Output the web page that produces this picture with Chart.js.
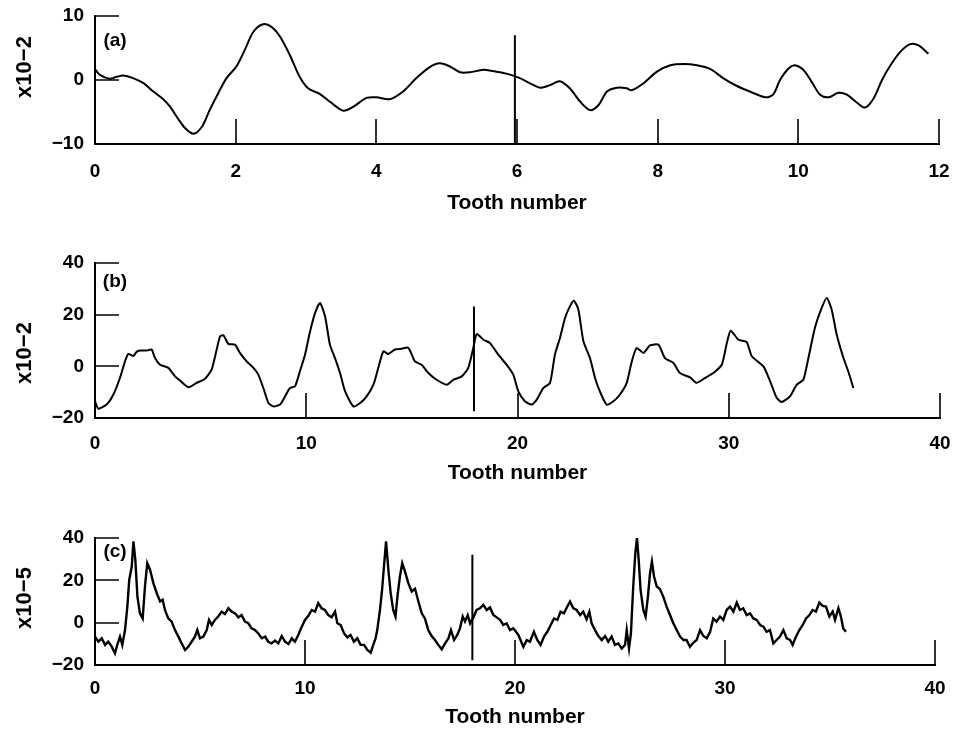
<!DOCTYPE html>
<html>
<head>
<meta charset="utf-8">
<script src="https://cdn.jsdelivr.net/npm/chart.js@4.4.0/dist/chart.umd.min.js"></script>
<style>
  body { margin: 0; background: #fff; width: 958px; height: 731px; overflow: hidden; position: relative; }
  canvas { position: absolute; left: 0; }
</style>
</head>
<body>
<canvas id="chartA" width="958" height="230" style="top:0px"></canvas>
<canvas id="chartB" width="958" height="260" style="top:230px"></canvas>
<canvas id="chartC" width="958" height="241" style="top:490px"></canvas>
<script>
// ---- data ----
const xTicksA = [0, 2, 4, 6, 8, 10, 12];
const yTicksA = [-10, 0, 10];
const xTicksBC = [0, 10, 20, 30, 40];
const yTicksBC = [-20, 0, 20, 40];

// (a) tooth number / value (x10^-2)
const toothA = [0, 0.07, 0.21, 0.31, 0.40, 0.54, 0.69, 0.83, 0.97, 1.07, 1.16, 1.28, 1.40, 1.52, 1.63, 1.75, 1.87, 2.01, 2.13, 2.25,
  2.39, 2.51, 2.63, 2.77, 2.91, 3.03, 3.20, 3.34, 3.53, 3.67, 3.86, 4.00, 4.19, 4.38, 4.57, 4.76, 4.90, 5.05, 5.19, 5.33,
  5.52, 5.66, 5.85, 6.04, 6.33, 6.47, 6.61, 6.75, 6.90, 7.04, 7.16, 7.28, 7.42, 7.56, 7.63, 7.80, 7.99, 8.18, 8.37, 8.56,
  8.75, 8.93, 9.12, 9.31, 9.53, 9.64, 9.74, 9.86, 9.95, 10.07, 10.19, 10.31, 10.43, 10.57, 10.69, 10.84, 10.95, 11.07, 11.19, 11.31,
  11.45, 11.59, 11.71, 11.85];
const valueA = [1.7, 0.8, 0.2, 0.5, 0.7, 0.3, -0.5, -1.8, -3.0, -4.2, -5.7, -7.5, -8.4, -7.3, -4.7, -2.1, 0.3, 2.1, 4.7, 7.5,
  8.7, 8.3, 6.8, 3.9, 0.5, -1.3, -2.2, -3.4, -4.8, -4.2, -2.8, -2.7, -3.0, -1.8, 0.3, 2.0, 2.6, 2.1, 1.2, 1.2,
  1.6, 1.4, 1.0, 0.3, -1.2, -0.8, -0.2, -1.3, -3.4, -4.7, -3.9, -1.8, -1.2, -1.3, -1.6, -0.5, 1.3, 2.3, 2.5, 2.3,
  1.7, 0.3, -0.9, -1.8, -2.7, -2.3, 0.0, 1.8, 2.3, 1.6, -0.3, -2.3, -2.7, -2.0, -2.3, -3.6, -4.3, -2.9, 0.0, 2.3,
  4.4, 5.6, 5.4, 4.1];
const markerA = [5.97, 7.0, -10];

// (b) tooth number / value (x10^-2)
const toothB = [0, 0.16, 0.55, 0.87, 1.18, 1.42, 1.58, 1.81, 1.97, 2.13, 2.45, 2.68, 2.84, 3.08, 3.47, 3.79, 4.02, 4.42, 4.81, 5.21,
  5.52, 5.76, 5.92, 6.08, 6.31, 6.63, 6.86, 7.18, 7.50, 7.73, 7.97, 8.21, 8.44, 8.76, 9.00, 9.23, 9.47, 9.70, 9.94, 10.18,
  10.42, 10.65, 10.89, 11.12, 11.36, 11.60, 11.84, 12.23, 12.55, 12.86, 13.18, 13.41, 13.65, 13.89, 14.20, 14.52, 14.83, 15.15, 15.46, 15.78,
  16.17, 16.65, 16.96, 17.36, 17.67, 17.91, 18.07, 18.39, 18.70, 19.09, 19.49, 19.80, 20.04, 20.35, 20.67, 20.91, 21.22, 21.54, 21.77, 22.01,
  22.25, 22.48, 22.67, 22.88, 23.12, 23.43, 23.67, 23.90, 24.22, 24.54, 24.85, 25.17, 25.41, 25.64, 25.96, 26.27, 26.67, 26.98, 27.38, 27.69,
  28.17, 28.48, 28.88, 29.27, 29.67, 29.91, 30.09, 30.46, 30.85, 31.09, 31.64, 31.96, 32.27, 32.51, 32.90, 33.22, 33.53, 33.77, 34.08, 34.40,
  34.64, 34.87, 35.11, 35.43, 35.66, 35.90];
const valueB = [-13.5, -16.4, -14.8, -10.9, -4.5, 1.9, 4.8, 4.0, 5.6, 6.1, 6.1, 6.5, 3.2, 0.6, -0.6, -3.9, -5.5, -8.1, -6.4, -4.8,
  -1.3, 6.5, 11.6, 12.0, 8.7, 8.4, 5.2, 1.9, -0.6, -3.2, -8.4, -14.2, -15.5, -14.8, -11.6, -8.4, -7.7, -1.9, 4.5, 13.5,
  20.7, 24.5, 19.4, 8.4, 3.2, -2.6, -9.7, -15.5, -14.2, -11.6, -7.1, -0.6, 5.8, 4.8, 6.5, 6.8, 7.2, 1.9, 0.6, -2.6,
  -5.2, -7.1, -5.2, -3.9, -0.6, 7.2, 12.5, 10.3, 9.0, 4.5, 0.6, -3.2, -9.7, -13.5, -14.8, -12.9, -8.4, -6.4, 4.5, 11.0,
  18.7, 23.2, 25.4, 22.0, 9.7, 3.2, -4.5, -9.7, -14.8, -13.5, -10.9, -6.4, 1.9, 7.1, 5.2, 8.1, 8.4, 3.2, 1.3, -2.6,
  -4.3, -6.4, -4.5, -2.6, 0.6, 9.0, 13.8, 10.3, 9.4, 3.9, 0.0, -5.8, -12.2, -13.8, -11.6, -7.1, -5.2, 3.2, 14.9, 22.6,
  26.5, 22.0, 12.3, 3.2, -2.0, -8.4];
const markerB = [17.94, 23.2, -17.4];

// (c) tooth number / value (x10^-5)
const toothC = [0, 0.16, 0.32, 0.48, 0.63, 0.79, 0.95, 1.06, 1.19, 1.30, 1.43, 1.54, 1.63, 1.75, 1.83, 1.92, 2.02, 2.14, 2.27, 2.38,
  2.49, 2.62, 2.78, 2.94, 3.10, 3.22, 3.33, 3.49, 3.65, 3.81, 3.97, 4.13, 4.29, 4.44, 4.60, 4.76, 4.87, 5.00, 5.16, 5.32,
  5.43, 5.56, 5.71, 5.87, 6.03, 6.19, 6.35, 6.51, 6.67, 6.83, 6.98, 7.14, 7.30, 7.46, 7.62, 7.78, 7.94, 8.10, 8.25, 8.41,
  8.57, 8.73, 8.89, 9.05, 9.21, 9.37, 9.52, 9.68, 9.84, 10.00, 10.16, 10.32, 10.48, 10.63, 10.79, 10.95, 11.11, 11.27, 11.43, 11.54,
  11.70, 11.86, 12.02, 12.17, 12.33, 12.49, 12.65, 12.81, 12.97, 13.13, 13.25, 13.36, 13.44, 13.57, 13.67, 13.76, 13.86, 13.97, 14.08, 14.20,
  14.31, 14.41, 14.52, 14.63, 14.76, 14.92, 15.08, 15.24, 15.40, 15.56, 15.71, 15.87, 16.03, 16.19, 16.35, 16.51, 16.67, 16.83, 16.95, 17.10,
  17.25, 17.38, 17.51, 17.62, 17.75, 17.86, 18.02, 18.17, 18.33, 18.49, 18.65, 18.81, 18.97, 19.13, 19.29, 19.44, 19.60, 19.76, 19.92, 20.16,
  20.40, 20.56, 20.71, 20.90, 21.06, 21.22, 21.38, 21.54, 21.70, 21.86, 22.02, 22.17, 22.33, 22.49, 22.62, 22.78, 22.94, 23.10, 23.25, 23.41,
  23.54, 23.65, 23.81, 23.97, 24.13, 24.29, 24.44, 24.60, 24.76, 24.92, 25.08, 25.24, 25.32, 25.43, 25.52, 25.63, 25.73, 25.81, 25.89, 25.98,
  26.11, 26.22, 26.33, 26.43, 26.52, 26.62, 26.75, 26.90, 27.06, 27.22, 27.38, 27.54, 27.70, 27.86, 28.02, 28.17, 28.33, 28.49, 28.65, 28.81,
  28.97, 29.13, 29.29, 29.44, 29.60, 29.76, 29.92, 30.08, 30.24, 30.40, 30.56, 30.71, 30.87, 31.03, 31.19, 31.35, 31.51, 31.67, 31.83, 31.98,
  32.14, 32.30, 32.46, 32.62, 32.78, 32.94, 33.10, 33.22, 33.38, 33.54, 33.70, 33.86, 34.02, 34.17, 34.33, 34.49, 34.65, 34.81, 34.97, 35.13,
  35.24, 35.40, 35.52, 35.63, 35.76];
const valueC = [-6.6, -9.0, -7.4, -10.5, -9.0, -11.2, -14.5, -10.5, -6.6, -10.5, -3.5, 7.6, 20.2, 26.5, 38.4, 29.7, 12.3, 4.4, 2.0, 17.1,
  28.1, 25.0, 18.7, 13.9, 10.0, 10.8, 6.0, 2.0, 0.5, -3.5, -6.6, -9.8, -12.9, -11.4, -9.0, -6.6, -3.5, -7.4, -6.6, -3.5,
  1.3, -1.1, 1.3, 2.9, 5.2, 4.1, 6.8, 5.2, 4.4, 2.5, 3.6, 0.5, -0.3, -2.7, -3.5, -5.1, -7.4, -6.6, -9.0, -9.8,
  -8.5, -9.8, -6.3, -9.0, -10.1, -7.4, -9.0, -5.8, -2.0, 1.3, 3.2, 6.0, 5.2, 9.2, 6.8, 6.0, 3.6, 2.5, 5.2, -0.3,
  -1.1, -5.1, -6.9, -5.8, -9.0, -7.4, -10.5, -10.5, -12.9, -14.2, -10.5, -7.4, -3.5, 6.0, 15.5, 26.5, 38.4, 25.0, 13.9, 6.0,
  2.9, 13.1, 21.8, 28.1, 24.2, 18.7, 14.7, 16.0, 10.0, 4.4, 2.0, -3.5, -6.3, -8.2, -10.5, -12.6, -9.8, -7.4, -3.5, -8.2,
  -5.8, -2.7, 2.9, 0.5, 3.6, -0.3, 2.5, 6.0, 6.8, 8.4, 6.0, 7.2, 3.6, 2.5, 1.3, -1.1, -0.3, -3.5, -2.7, -5.8,
  -11.4, -8.2, -9.0, -4.3, -8.2, -10.5, -6.6, -4.3, -1.1, 2.0, 1.3, 5.2, 4.4, 7.6, 10.0, 6.8, 6.0, 3.6, 5.2, 1.6,
  5.2, -0.3, -3.5, -6.3, -8.2, -6.3, -9.0, -6.6, -10.5, -9.8, -12.2, -10.5, -3.5, -12.2, -5.1, 17.1, 32.9, 40.0, 29.7, 15.5,
  6.0, 2.9, 12.3, 23.4, 28.9, 21.8, 17.1, 15.9, 12.3, 7.6, 3.6, -0.3, -3.5, -6.6, -8.2, -8.2, -11.4, -9.5, -8.2, -3.5,
  -6.3, -7.4, -4.3, 2.0, 0.5, 2.9, 1.3, 6.0, 7.6, 5.2, 9.5, 6.0, 6.8, 3.6, 4.4, 2.0, 1.3, -1.1, -1.9, -4.3,
  -3.5, -9.8, -8.2, -6.6, -3.5, -7.4, -8.2, -10.5, -6.6, -3.5, -1.1, 2.0, 3.6, 6.0, 5.2, 9.5, 7.9, 7.6, 2.9, 5.2,
  1.3, 6.8, 2.9, -2.7, -4.3];
const markerC = [17.97, 32.1, -17.7];

// ---- drawing ----
const FONT = '"Liberation Sans", Arial, Helvetica, sans-serif';

// inward tick marks, panel letter and rotated y label
const figurePlugin = {
  id: 'figure',
  afterDraw(chart, args, opts) {
    const ctx = chart.ctx;
    const xs = chart.scales.x, ys = chart.scales.y;
    const area = chart.chartArea;
    ctx.save();
    ctx.strokeStyle = '#000';
    ctx.lineWidth = 1.6;
    ctx.beginPath();
    xs.ticks.forEach(t => {
      if (t.value === xs.min) return;
      const px = Math.round(xs.getPixelForValue(t.value));
      ctx.moveTo(px, area.bottom);
      ctx.lineTo(px, area.bottom - opts.tickLen);
    });
    ys.ticks.forEach(t => {
      if (t.value === ys.min) return;
      const py = Math.round(ys.getPixelForValue(t.value));
      ctx.moveTo(area.left, py);
      ctx.lineTo(area.left + opts.tickLen - 1, py);
    });
    ctx.stroke();

    ctx.fillStyle = '#000';
    ctx.textAlign = 'center';
    ctx.textBaseline = 'middle';
    ctx.font = 'bold 19px ' + FONT;
    ctx.fillText(opts.letter, area.left + 20, opts.letterY);

    ctx.translate(opts.yLabelX, opts.yLabelY);
    ctx.rotate(-Math.PI / 2);
    ctx.font = 'bold 22px ' + FONT;
    ctx.fillText(opts.yLabel, 0, 0);
    ctx.restore();
  }
};

function points(xs, ys) {
  return xs.map((x, i) => ({x: x, y: ys[i]}));
}

function makeChart(id, cfg) {
  const fmt = v => String(v).replace('-', '\u2212');
  new Chart(document.getElementById(id), {
    type: 'line',
    data: {
      datasets: [{
        data: points(cfg.tooth, cfg.values),
        borderColor: '#000',
        borderWidth: cfg.lineWidth,
        pointRadius: 0,
        tension: cfg.tension
      }, {
        data: [{x: cfg.marker[0], y: cfg.marker[1]}, {x: cfg.marker[0], y: cfg.marker[2]}],
        borderColor: '#000',
        borderWidth: 2,
        pointRadius: 0
      }]
    },
    options: {
      responsive: false,
      animation: false,
      events: [],
      layout: {padding: {top: cfg.padTop, right: cfg.padRight, left: 0, bottom: 0}},
      plugins: {
        legend: {display: false},
        tooltip: {enabled: false},
        figure: {tickLen: 25, letter: cfg.letter, letterY: cfg.letterY, yLabel: cfg.yLabel, yLabelX: 25, yLabelY: cfg.yLabelY}
      },
      scales: {
        x: {
          type: 'linear',
          min: cfg.xTicks[0],
          max: cfg.xTicks[cfg.xTicks.length - 1],
          afterBuildTicks: s => { s.ticks = cfg.xTicks.map(v => ({value: v})); },
          afterFit: s => { s.height = cfg.xHeight; s.paddingLeft = 0; s.paddingRight = 0; },
          grid: {display: false, drawTicks: false},
          border: {display: true, color: '#000', width: 2},
          ticks: {color: '#000', font: {family: FONT, size: 19, weight: 'bold'}, padding: cfg.xPad, maxRotation: 0, autoSkip: false, callback: fmt},
          title: {display: true, text: 'Tooth number', color: '#000', font: {family: FONT, size: 21, weight: 'bold'}, padding: {top: 0, bottom: cfg.titlePad}}
        },
        y: {
          type: 'linear',
          min: cfg.yTicks[0],
          max: cfg.yTicks[cfg.yTicks.length - 1],
          afterBuildTicks: s => { s.ticks = cfg.yTicks.map(v => ({value: v})); },
          afterFit: s => { s.width = 95; s.paddingTop = 0; s.paddingBottom = 0; },
          grid: {display: false, drawTicks: false},
          border: {display: true, color: '#000', width: 2},
          ticks: {color: '#000', font: {family: FONT, size: 19, weight: 'bold'}, padding: 11, callback: fmt}
        }
      }
    },
    plugins: [figurePlugin]
  });
}

makeChart('chartA', {
  tooth: toothA, values: valueA, marker: markerA, xTicks: xTicksA, yTicks: yTicksA,
  tension: 0.3, lineWidth: 2, padTop: 16, padRight: 19, xHeight: 86, xPad: 16, titlePad: 14,
  letter: '(a)', letterY: 41, yLabel: 'x10\u22122', yLabelY: 67
});
makeChart('chartB', {
  tooth: toothB, values: valueB, marker: markerB, xTicks: xTicksBC, yTicks: yTicksBC,
  tension: 0.2, lineWidth: 2, padTop: 33, padRight: 18, xHeight: 72, xPad: 14, titlePad: 4,
  letter: '(b)', letterY: 52, yLabel: 'x10\u22122', yLabelY: 123
});
makeChart('chartC', {
  tooth: toothC, values: valueC, marker: markerC, xTicks: xTicksBC, yTicks: yTicksBC,
  tension: 0, lineWidth: 2.4, padTop: 48, padRight: 23, xHeight: 66, xPad: 12, titlePad: 1,
  letter: '(c)', letterY: 62, yLabel: 'x10\u22125', yLabelY: 108
});
</script>
</body>
</html>
